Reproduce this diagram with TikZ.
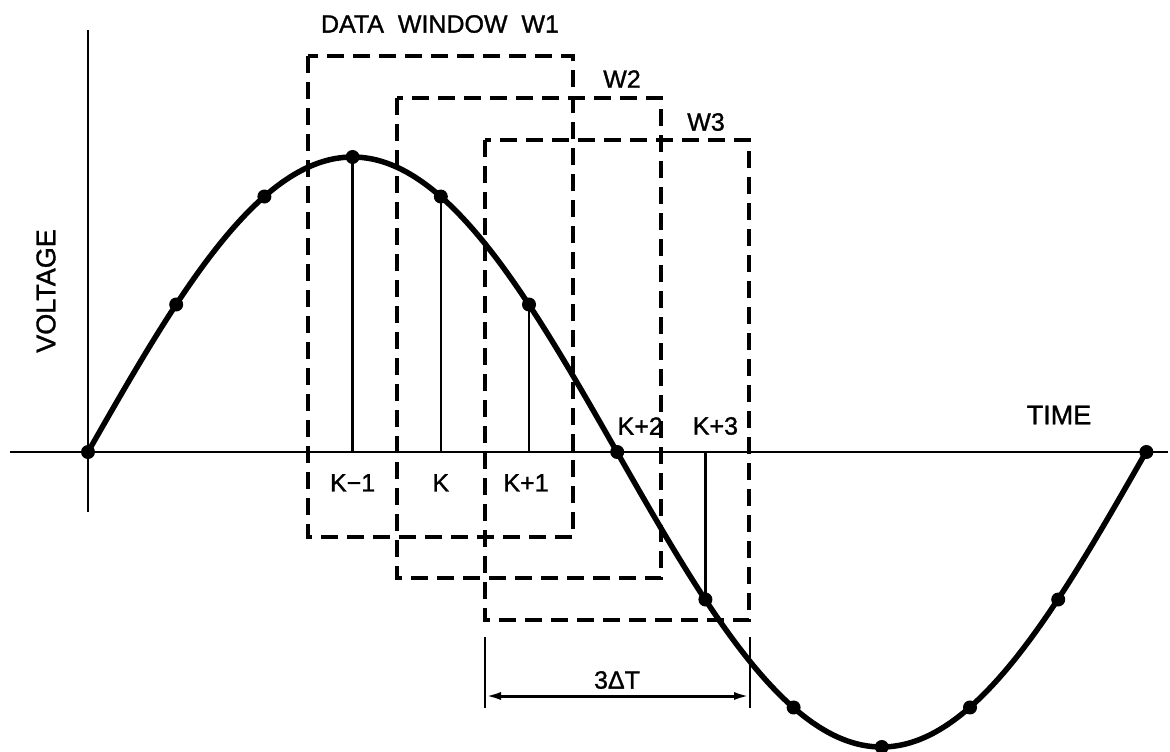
\documentclass[tikz,border=0pt]{standalone}
\usepackage{fontspec}
\setmainfont{Liberation Sans}[FakeBold=1.2]
\usetikzlibrary{arrows.meta,positioning}
\tikzset{
	sinecurve/.style={line width=5.5pt, line join=round, line cap=round},
	axisline/.style={line width=2.8pt},
	window/.style={line width=3.1pt, dash pattern=on 17pt off 9pt},
	sampleline/.style={line width=2.5pt},
	sampledot/.style={circle, fill=black, inner sep=0pt, minimum size=14pt},
	dimarrow/.style={{Latex[length=16pt,width=8pt]}-{Latex[length=16pt,width=8pt]}, line width=3pt},
	lbl/.style={font=\fontsize{25}{30}\selectfont, inner sep=0pt},
	biglbl/.style={font=\fontsize{27}{32}\selectfont, inner sep=0pt}
}

\begin{document}
\begin{tikzpicture}[x=1pt, y=-1pt]
			\useasboundingbox (0,0) rectangle (1170,752);
			\coordinate (xl) at (10,452);
			\coordinate (xr) at (1168,452);
			\coordinate (yt) at (88,30);
			\coordinate (yb) at (88,512);
			\draw[axisline] (xl) -- (xr);
			\draw[axisline] (yt) -- (yb);
			\coordinate (w1nw) at (308,56);
			\coordinate (w1se) at (573,537);
			\coordinate (w2nw) at (397,98);
			\coordinate (w2se) at (661,578);
			\coordinate (w3nw) at (485,140);
			\coordinate (w3se) at (749,620);
			\draw[window] (w1nw) rectangle (w1se);
			\draw[window] (w2nw) rectangle (w2se);
			\draw[window] (w3nw) rectangle (w3se);
			\draw[sinecurve] plot[domain=0:360, samples=121, smooth] ({88+2.93889*\x}, {452-295*sin(\x)});
			\foreach \i in {0,...,12}{
				\node[sampledot] (s\i) at ({88+88.2*\i}, {452-295*sin(30*\i)}) {};
				\coordinate (b\i) at ({88+88.2*\i}, 452);
			}
			\foreach \i in {3,4,5,7}
				\draw[sampleline] (s\i.center) -- (b\i);
			\node[lbl] (w1lbl) at (440,24) {DATA\ \ WINDOW\ \ W1};
			\node[lbl] (w2lbl) at (622,79) {W2};
			\node[lbl] (w3lbl) at (706,122) {W3};
			\node[lbl, below=22pt of b3] (km1) {K−1};
			\node[lbl, below=22pt of b4] (k) {K};
			\node[lbl, below=22pt of b5, xshift=-3pt] (kp1) {K+1};
			\node[lbl, above=17pt of b6, xshift=23pt] (kp2) {K+2};
			\node[lbl, above=17pt of b7, xshift=10pt] (kp3) {K+3};
			\node[biglbl] (time) at (1059,415) {TIME};
			\node[biglbl, rotate=90] (volt) at (46,291) {VOLTAGE};
			\coordinate (e1t) at (485,637);
			\coordinate (e1b) at (485,708);
			\coordinate (e2t) at (750,637);
			\coordinate (e2b) at (750,708);
			\draw[sampleline] (e1t) -- (e1b);
			\draw[sampleline] (e2t) -- (e2b);
			\coordinate (d1) at (485,696);
			\coordinate (d2) at (750,696);
			\draw[dimarrow] (d1) -- (d2);
			\node[lbl] (dtlbl) at (617,680) {3ΔT};
		\end{tikzpicture}
\end{document}
